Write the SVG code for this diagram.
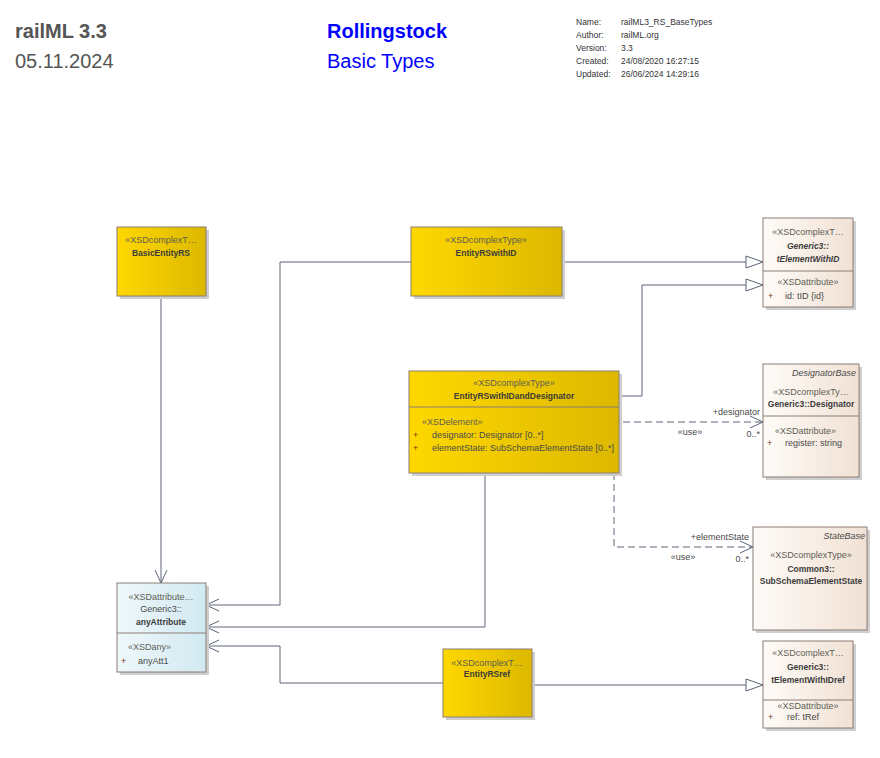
<svg xmlns="http://www.w3.org/2000/svg" width="880" height="758" viewBox="0 0 880 758">
<style>
.t{font-family:"Liberation Sans",Arial,sans-serif;font-size:9px;fill:#4a4a4a}
.st{fill:#5e5e54}
.nm{font-weight:bold;font-size:8.5px;fill:#3c3c3c}
.it{font-style:italic}
.pl{fill:#7a3a20}
.c{text-anchor:middle}
.r{text-anchor:end}
.box{stroke:#8c7c74;stroke-width:1}
.sh{fill:#cfcfcf}
.div{stroke:#8c7c74;stroke-width:1}
.ln{fill:none;stroke:#5a6478;stroke-width:1}
.ds{stroke-dasharray:7,4}
.meta{font-family:"Liberation Sans",Arial,sans-serif;font-size:8.5px;fill:#333}
</style>
<defs>
<linearGradient id="gy" x1="0" y1="0" x2="1" y2="0"><stop offset="0" stop-color="#FFD800"/><stop offset="1" stop-color="#DCB800"/></linearGradient>
<linearGradient id="gb" x1="0" y1="0" x2="1" y2="0"><stop offset="0" stop-color="#FEFBF8"/><stop offset="1" stop-color="#F1E1D4"/></linearGradient>
<linearGradient id="gl" x1="0" y1="0" x2="1" y2="0"><stop offset="0" stop-color="#EEF8FB"/><stop offset="1" stop-color="#D2E9F1"/></linearGradient>
<marker id="open" markerUnits="userSpaceOnUse" markerWidth="16" markerHeight="16" refX="14" refY="7" orient="auto" viewBox="0 0 16 14"><path d="M1,1 L14,7 L1,13" fill="none" stroke="#5a6478" stroke-width="1"/></marker>
<marker id="tri" markerUnits="userSpaceOnUse" markerWidth="20" markerHeight="16" refX="18" refY="7" orient="auto" viewBox="0 0 20 14"><path d="M1,1 L18,7 L1,13 Z" fill="#fff" stroke="#5a6478" stroke-width="1"/></marker>
</defs>
<rect width="880" height="758" fill="#fff"/>

<g id="header">
<text x="15" y="38" font-family="Liberation Sans,Arial,sans-serif" font-size="20" font-weight="bold" fill="#555">railML 3.3</text>
<text x="15" y="68" font-family="Liberation Sans,Arial,sans-serif" font-size="20" fill="#555">05.11.2024</text>
<text x="327" y="38" font-family="Liberation Sans,Arial,sans-serif" font-size="20" font-weight="bold" fill="#0000ff">Rollingstock</text>
<text x="327" y="68" font-family="Liberation Sans,Arial,sans-serif" font-size="20" fill="#0000ff">Basic Types</text>
<text class="meta" x="576" y="25">Name:</text><text class="meta" x="621" y="25">railML3_RS_BaseTypes</text>
<text class="meta" x="576" y="38">Author:</text><text class="meta" x="621" y="38">railML.org</text>
<text class="meta" x="576" y="51">Version:</text><text class="meta" x="621" y="51">3.3</text>
<text class="meta" x="576" y="64">Created:</text><text class="meta" x="621" y="64">24/08/2020 16:27:15</text>
<text class="meta" x="576" y="77">Updated:</text><text class="meta" x="621" y="77">26/06/2024 14:29:16</text>
</g>

<g id="connectors">
<path class="ln" d="M161,296 V583" marker-end="url(#open)"/>
<path class="ln" d="M411,262 H280 V605 H206" marker-end="url(#open)"/>
<path class="ln" d="M485,473 V627 H206" marker-end="url(#open)"/>
<path class="ln" d="M443,683 H280 V646 H206" marker-end="url(#open)"/>
<path class="ln" d="M562,262 H763" marker-end="url(#tri)"/>
<path class="ln" d="M619,396 H642 V285 H763" marker-end="url(#tri)"/>
<path class="ln ds" d="M623,422 H763" marker-end="url(#open)"/>
<path class="ln ds" d="M614,473 V547 H753" marker-end="url(#open)"/>
<path class="ln" d="M532,685 H763" marker-end="url(#tri)"/>
<text class="t r" x="760" y="415">+designator</text>
<text class="t c" x="690" y="435">«use»</text>
<text class="t r" x="760" y="437">0..*</text>
<text class="t r" x="749" y="540">+elementState</text>
<text class="t c" x="683" y="560">«use»</text>
<text class="t r" x="749" y="562">0..*</text>
</g>

<g id="BasicEntityRS">
<rect class="sh" x="120" y="230" width="89" height="69"/>
<rect class="box" x="117" y="227" width="89" height="69" fill="url(#gy)"/>
<text class="t st c" x="161" y="243">«XSDcomplexT…</text>
<text class="t nm c" x="161" y="256">BasicEntityRS</text>
</g>

<g id="EntityRSwithID">
<rect class="sh" x="414" y="230" width="151" height="69"/>
<rect class="box" x="411" y="227" width="151" height="69" fill="url(#gy)"/>
<text class="t st c" x="486" y="243">«XSDcomplexType»</text>
<text class="t nm c" x="486" y="256">EntityRSwithID</text>
</g>

<g id="tElementWithID">
<rect class="sh" x="766" y="221" width="90" height="89"/>
<rect class="box" x="763" y="218" width="90" height="89" fill="url(#gb)"/>
<line class="div" x1="763" y1="271" x2="853" y2="271"/>
<text class="t st c" x="808" y="235">«XSDcomplexT…</text>
<text class="t nm it c" x="808" y="249">Generic3::</text>
<text class="t nm it c" x="808" y="262">tElementWithID</text>
<text class="t st c" x="808" y="285">«XSDattribute»</text>
<text class="t pl" x="768" y="299">+</text>
<text class="t" x="785" y="299">id: tID {id}</text>
</g>

<g id="EntityRSwithIDandDesignator">
<rect class="sh" x="412" y="374" width="210" height="102"/>
<rect class="box" x="409" y="371" width="210" height="102" fill="url(#gy)"/>
<line class="div" x1="409" y1="407" x2="619" y2="407"/>
<text class="t st c" x="514" y="386">«XSDcomplexType»</text>
<text class="t nm c" x="514" y="399">EntityRSwithIDandDesignator</text>
<text class="t st" x="422" y="425">«XSDelement»</text>
<text class="t pl" x="413" y="438">+</text>
<text class="t" x="432" y="438">designator: Designator [0..*]</text>
<text class="t pl" x="413" y="451">+</text>
<text class="t" x="432" y="451">elementState: SubSchemaElementState [0..*]</text>
</g>

<g id="Designator">
<rect class="sh" x="766" y="367" width="96" height="113"/>
<rect class="box" x="763" y="364" width="96" height="113" fill="url(#gb)"/>
<line class="div" x1="763" y1="416" x2="859" y2="416"/>
<text class="t it r" x="856" y="376">DesignatorBase</text>
<text class="t st c" x="811" y="395">«XSDcomplexTy…</text>
<text class="t nm c" x="811" y="407">Generic3::Designator</text>
<text class="t st" x="775" y="434">«XSDattribute»</text>
<text class="t pl" x="767" y="446">+</text>
<text class="t" x="785" y="446">register: string</text>
</g>

<g id="SubSchemaElementState">
<rect class="sh" x="756" y="530" width="114" height="103"/>
<rect class="box" x="753" y="527" width="114" height="103" fill="url(#gb)"/>
<text class="t it r" x="865" y="539">StateBase</text>
<text class="t st c" x="811" y="558">«XSDcomplexType»</text>
<text class="t nm c" x="811" y="572">Common3::</text>
<text class="t nm c" x="811" y="584">SubSchemaElementState</text>
</g>

<g id="anyAttribute">
<rect class="sh" x="120" y="586" width="89" height="89"/>
<rect class="box" x="117" y="583" width="89" height="89" fill="url(#gl)"/>
<line class="div" x1="117" y1="633" x2="206" y2="633"/>
<text class="t st c" x="161" y="600">«XSDattribute…</text>
<text class="t c" x="161" y="612">Generic3::</text>
<text class="t nm c" x="161" y="625">anyAttribute</text>
<text class="t st" x="128" y="650">«XSDany»</text>
<text class="t pl" x="121" y="664">+</text>
<text class="t" x="138" y="664">anyAtt1</text>
</g>

<g id="EntityRSref">
<rect class="sh" x="446" y="652" width="89" height="68"/>
<rect class="box" x="443" y="649" width="89" height="68" fill="url(#gy)"/>
<text class="t st c" x="487" y="666">«XSDcomplexT…</text>
<text class="t nm c" x="487" y="677">EntityRSref</text>
</g>

<g id="tElementWithIDref">
<rect class="sh" x="766" y="644" width="90" height="87"/>
<rect class="box" x="763" y="641" width="90" height="87" fill="url(#gb)"/>
<line class="div" x1="763" y1="700" x2="853" y2="700"/>
<text class="t st c" x="808" y="656">«XSDcomplexT…</text>
<text class="t nm c" x="808" y="670">Generic3::</text>
<text class="t nm c" x="808" y="683">tElementWithIDref</text>
<text class="t st c" x="808" y="709">«XSDattribute»</text>
<text class="t pl" x="768" y="720">+</text>
<text class="t" x="787" y="720">ref: tRef</text>
</g>
</svg>
